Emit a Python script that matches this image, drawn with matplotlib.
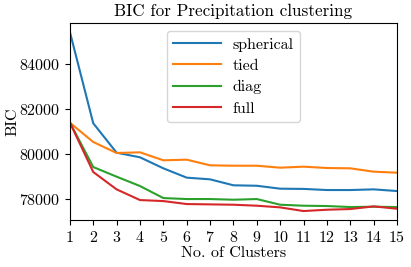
import numpy as np
import matplotlib
matplotlib.use("Agg")
import matplotlib.pyplot as plt

plt.rcParams.update({"font.family": "serif", "font.serif": ["cmr10"],
                     "mathtext.fontset": "cm", "axes.formatter.use_mathtext": True,
                     "font.size": 11.5})

clusters = np.arange(1, 16)
spherical = [85420, 81364, 80058, 79853, 79364, 78950, 78875, 78610, 78590,
             78460, 78450, 78400, 78400, 78430, 78355]
tied = [81390, 80533, 80044, 80075, 79720, 79748, 79497, 79480, 79480,
        79392, 79437, 79378, 79364, 79215, 79170]
diag = [81400, 79422, 78993, 78578, 78044, 78000, 78000, 77970, 78000,
        77748, 77704, 77690, 77645, 77660, 77645]
full = [81400, 79200, 78430, 77955, 77910, 77778, 77763, 77748, 77704,
        77630, 77467, 77526, 77556, 77674, 77570]

fig, ax = plt.subplots(figsize=(4.11, 2.67), dpi=100)
for name, vals in [("spherical", spherical), ("tied", tied),
                   ("diag", diag), ("full", full)]:
    ax.plot(clusters, vals, label=name)
ax.set_xlim(1, 15)
ax.set_xticks(clusters)
ax.set_yticks([78000, 80000, 82000, 84000])
ax.set_xlabel("No. of Clusters")
ax.set_ylabel("BIC")
ax.xaxis.set_label_coords(0.5, -0.135)
ax.yaxis.set_label_coords(-0.155, 0.5)
ax.set_title("BIC for Precipitation clustering", fontsize=12.3, pad=5)
ax.legend(loc="upper center", fontsize=11.5, handlelength=3.0,
          handletextpad=0.7, labelspacing=0.45)
fig.subplots_adjust(left=0.170, right=0.966, top=0.914, bottom=0.176)
fig.savefig("out.png")
